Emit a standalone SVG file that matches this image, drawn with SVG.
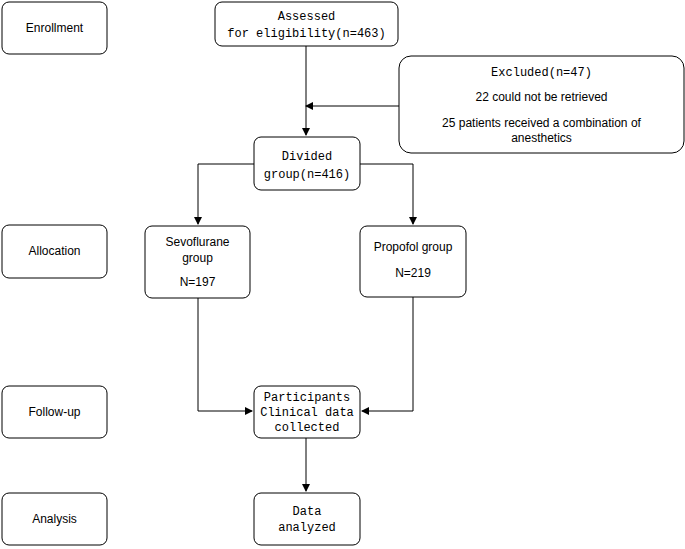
<svg xmlns="http://www.w3.org/2000/svg" width="685" height="549" viewBox="0 0 685 549">
<style>
rect{fill:#fff;stroke:#000;stroke-width:1}
.s{font-family:"Liberation Sans",Arial,sans-serif;font-size:12px;text-anchor:middle}
.m{font-family:"Liberation Mono",monospace;font-size:12px;text-anchor:middle}
.c path{fill:none;stroke:#000;stroke-width:1}
</style>
<defs><marker id="a" markerWidth="8" markerHeight="8" refX="7" refY="4" orient="auto" markerUnits="userSpaceOnUse"><path d="M0,0L8,4L0,8z" fill="#000"/></marker></defs>
<rect width="685" height="549" style="stroke:none"/>
<g class="c">
<path d="M306,46V135" marker-end="url(#a)"/>
<path d="M399,106H306" marker-end="url(#a)"/>
<path d="M254,164H198V224" marker-end="url(#a)"/>
<path d="M360,164H413V224" marker-end="url(#a)"/>
<path d="M198,298V411H252" marker-end="url(#a)"/>
<path d="M413,297V411H362" marker-end="url(#a)"/>
<path d="M306,438V491" marker-end="url(#a)"/>
</g>
<g id="enrollment"><rect x="2" y="2" width="105" height="52" rx="7"/><text class="s" x="54.5" y="32">Enrollment</text></g>
<g id="allocation"><rect x="2" y="225" width="105" height="53" rx="7"/><text class="s" x="54.5" y="255">Allocation</text></g>
<g id="followup"><rect x="2" y="386" width="105" height="52" rx="7"/><text class="s" x="54.5" y="416">Follow-up</text></g>
<g id="analysis"><rect x="2" y="493" width="105" height="52" rx="7"/><text class="s" x="54.5" y="523">Analysis</text></g>
<g id="assessed"><rect x="215" y="2" width="183" height="44" rx="7"/><text class="m" x="306.5" y="20">Assessed</text><text class="m" x="306.5" y="37">for eligibility(n=463)</text></g>
<g id="excluded"><rect x="399" y="56" width="285" height="97" rx="12"/><text class="m" x="541.5" y="76">Excluded(n=47)</text><text class="s" x="541.5" y="101">22 could not be retrieved</text><text class="s" x="541.5" y="127">25 patients received a combination of</text><text class="s" x="541.5" y="142">anesthetics</text></g>
<g id="divided"><rect x="254" y="137" width="106" height="53" rx="7"/><text class="m" x="307" y="160">Divided</text><text class="m" x="307" y="178">group(n=416)</text></g>
<g id="sevo"><rect x="145" y="226" width="105" height="72" rx="7"/><text class="s" x="197.5" y="246">Sevoflurane</text><text class="s" x="197.5" y="262">group</text><text class="s" x="197.5" y="286">N=197</text></g>
<g id="propofol"><rect x="360" y="226" width="106" height="71" rx="7"/><text class="s" x="413" y="251">Propofol group</text><text class="s" x="413" y="277">N=219</text></g>
<g id="participants"><rect x="254" y="386" width="106" height="52" rx="7"/><text class="m" x="307" y="401">Participants</text><text class="m" x="307" y="416">Clinical data</text><text class="m" x="307" y="431">collected</text></g>
<g id="data"><rect x="254" y="493" width="106" height="52" rx="7"/><text class="m" x="307" y="515">Data</text><text class="m" x="307" y="531">analyzed</text></g>
</svg>
